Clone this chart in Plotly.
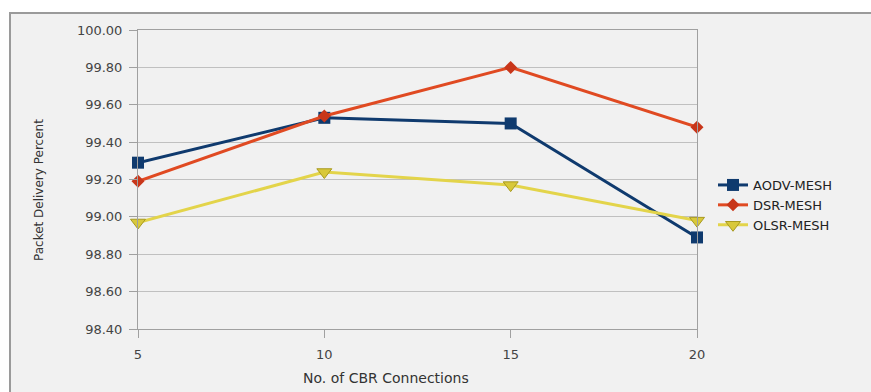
import plotly.graph_objects as go

connections = [5, 10, 15, 20]
aodv = [99.29, 99.53, 99.50, 98.89]
dsr = [99.19, 99.54, 99.80, 99.48]
olsr = [98.97, 99.24, 99.17, 98.98]
y_ticks = [98.40, 98.60, 98.80, 99.00, 99.20, 99.40, 99.60, 99.80, 100.00]
x_title = "No. of CBR Connections"
y_title = "Packet Delivery Percent"

W, H = 871, 392
ML, MR, MT, MB = 138, 174, 30, 63
FONT = "DejaVu Sans, Verdana, sans-serif"

fig = go.Figure()
fig.add_trace(go.Scatter(x=connections, y=aodv, name="AODV-MESH", mode="lines+markers",
                         line=dict(color="#0f3a6e", width=3),
                         marker=dict(symbol="square", size=12, color="#0f3a6e"), cliponaxis=False))
fig.add_trace(go.Scatter(x=connections, y=dsr, name="DSR-MESH", mode="lines+markers",
                         line=dict(color="#e04a22", width=3),
                         marker=dict(symbol="diamond", size=10, color="#c8361a"), cliponaxis=False))
fig.add_trace(go.Scatter(x=connections, y=olsr, name="OLSR-MESH", mode="lines+markers",
                         line=dict(color="#e3d44a", width=3),
                         marker=dict(symbol="triangle-down", size=13, color="#d8c83a",
                                     line=dict(color="#a89a20", width=1)), cliponaxis=False))

pw = W - ML - MR
ph = H - MT - MB


def px(xp):
    return (xp - ML) / pw


def py(yp):
    return (H - MB - yp) / ph


fig.add_shape(type="rect", xref="paper", yref="paper",
              x0=px(10), x1=px(W + 5), y0=py(H + 5), y1=py(13),
              line=dict(color="#9a9a9a", width=2), fillcolor="#f1f1f1", layer="below")

fig.add_annotation(text=x_title, xref="paper", yref="paper", x=px(386), y=py(378),
                   xanchor="center", yanchor="middle", showarrow=False,
                   font=dict(size=14, color="#333", family=FONT))
fig.add_annotation(text=y_title, xref="paper", yref="paper", x=px(39), y=py(190),
                   xanchor="center", yanchor="middle", showarrow=False, textangle=-90,
                   font=dict(size=12, color="#333", family=FONT))

fig.update_layout(
    width=W, height=H,
    margin=dict(l=ML, r=MR, t=MT, b=MB, autoexpand=False),
    paper_bgcolor="white", plot_bgcolor="#f1f1f1",
    font=dict(family=FONT, size=13, color="#444"),
    showlegend=True,
    legend=dict(x=px(713), y=py(170), xanchor="left", yanchor="top",
                bgcolor="rgba(0,0,0,0)", font=dict(size=13, color="#222", family=FONT),
                itemwidth=30, tracegroupgap=0),
    xaxis=dict(range=[5, 20], tickvals=connections, showgrid=False, zeroline=False,
               showline=True, linecolor="#a0a0a0", mirror=True, ticks="outside",
               ticklen=8, tickcolor="#a0a0a0", ticklabelstandoff=5, automargin=False),
    yaxis=dict(range=[98.4, 100.0], tickvals=y_ticks, tickformat=".2f", showgrid=True,
               gridcolor="#c0c0c0", zeroline=False, showline=True, linecolor="#a0a0a0",
               mirror=True, ticks="outside", ticklen=8, tickcolor="#a0a0a0",
               ticklabelstandoff=4, automargin=False),
)

fig.write_html("out.html")
